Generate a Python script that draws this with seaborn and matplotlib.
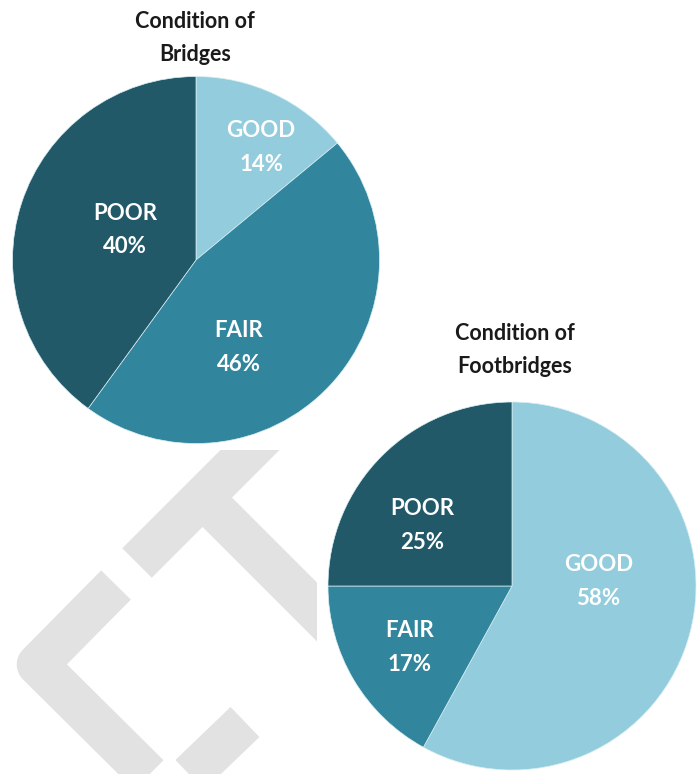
import matplotlib
matplotlib.use("Agg")
import numpy as np
import matplotlib.pyplot as plt
import seaborn as sns

# data
categories = ["GOOD", "FAIR", "POOR"]
bridges = [14, 46, 40]
footbridges = [58, 17, 25]
titles = ["Condition of\nBridges", "Condition of\nFootbridges"]

palette = sns.color_palette(["#93CDDD", "#31859C", "#215968"])

sns.set_theme(style="white")
plt.rcParams['font.family'] = ['Lato', 'DejaVu Sans']

W, H = 699, 774
fig = plt.figure(figsize=(W / 100, H / 100), dpi=100)


def px_box(x0, y0, x1, y1):
    # pixel box (top-left origin) -> figure fraction
    return [x0 / W, 1 - y1 / H, (x1 - x0) / W, (y1 - y0) / H]


# background watermark (decoration only)
wm = fig.add_axes(px_box(0, 450, 317, 774))
wm.set_xlim(0, 317)
wm.set_ylim(774, 450)
wm.axis('off')
wm_style = dict(color='#e2e2e2', lw=30, solid_capstyle='butt', solid_joinstyle='round')
wm.plot([116, 37.5, 169, 245], [585, 664.5, 795, 722], **wm_style)
wm.plot([137, 300], [563, 400], **wm_style)
wm.plot([204, 420], [499, 715], **wm_style)


def draw_pie(ax, values, label_pos):
    ax.pie(values, colors=palette, startangle=90, counterclock=False,
           wedgeprops=dict(edgecolor='#d8eef3', linewidth=0.5))
    for cat, v, (rr, ang) in zip(categories, values, label_pos):
        a = np.deg2rad(ang)
        ax.text(rr * np.cos(a), rr * np.sin(a), f"{cat}\n{v}%", ha='center', va='center',
                color='white', fontsize=16, fontweight='bold', linespacing=1.75)
    ax.set_xlim(-1, 1)
    ax.set_ylim(-1, 1)


ax1 = fig.add_axes(px_box(196 - 183.5, 260 - 183.5, 196 + 183.5, 260 + 183.5))
draw_pie(ax1, bridges, [(0.71, 60), (0.53, -64), (0.42, 157)])

ax2 = fig.add_axes(px_box(512 - 184, 586 - 184, 512 + 184, 586 + 184))
draw_pie(ax2, footbridges, [(0.47, 3), (0.65, 211), (0.59, 146)])

fig.text(195 / W, 1 - 38 / H, titles[0], ha='center', va='center', fontsize=15.5,
         fontweight='bold', color='#1a1a1a', linespacing=1.75)
fig.text(515 / W, 1 - 350 / H, titles[1], ha='center', va='center', fontsize=15.5,
         fontweight='bold', color='#1a1a1a', linespacing=1.75)

fig.savefig("out.png", dpi=100)
